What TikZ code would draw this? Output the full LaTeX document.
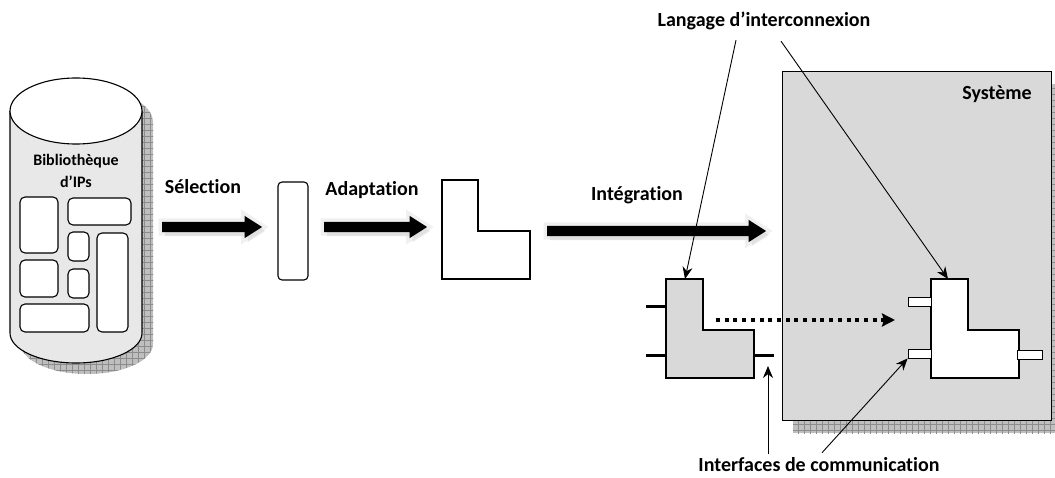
\documentclass[tikz,border=0pt]{standalone}
\usepackage{fontspec}
\setmainfont[Ligatures=NoCommon]{Carlito}
\usetikzlibrary{shapes.arrows,shadows,patterns.meta,arrows.meta,positioning}

\tikzstyle{capText} = [font=\fontsize{20}{24}\selectfont\bfseries, inner sep=0pt]
\tikzstyle{bigArrow} = [single arrow, fill=black, inner sep=5pt, minimum width=22pt, single arrow head extend=6pt, single arrow tip angle=65, preaction={draw=black!6, line width=7pt}, drop shadow={shadow xshift=3pt, shadow yshift=-4pt, fill=black!18}]
\tikzstyle{arrow} = [line width=0.9pt, -{Stealth[length=12pt,width=10pt]}]
\tikzstyle{ipBox} = [draw, rounded corners=5pt, line width=1.1pt, fill=white]
\tikzstyle{port} = [draw, fill=white, line width=0.8pt, inner sep=0pt]
\tikzstyle{shadowGrid} = [fill=black!25, postaction={pattern={Hatch[angle=0,distance=6pt,line width=0.4pt]}, pattern color=black!45}]
\tikzstyle{stub} = [line width=3pt]

\begin{document}
\begin{tikzpicture}[x=1pt, y=-1pt]
    \useasboundingbox (0,0) rectangle (1055,478);

    % bibliotheque
    \path[shadowGrid, shift={(11,11)}] (10,111) -- (10,333) arc[start angle=180, end angle=0, x radius=66, y radius=30] -- (142,111) arc[start angle=0, end angle=-180, x radius=66, y radius=33] -- cycle;
    \draw[line width=1.1pt, fill=black!9] (10,111) -- (10,333) arc[start angle=180, end angle=0, x radius=66, y radius=30] -- (142,111);
    \draw[line width=1.1pt, fill=white] (76,111) ellipse (66 and 33);
    \node (biblio)[font=\fontsize{16}{22}\selectfont\bfseries, align=center] at (76,171) {Bibliothèque\\d’IPs};
    \draw[ipBox] (20,197) rectangle (58,253);
    \draw[ipBox] (68,198) rectangle (131,225);
    \draw[ipBox] (68,232) rectangle (89,261);
    \draw[ipBox] (97,233) rectangle (128,332);
    \draw[ipBox] (20,260) rectangle (58,297);
    \draw[ipBox] (68,269) rectangle (89,298);
    \draw[ipBox] (20,304) rectangle (89,332);

    % selection
    \node (aSel)[bigArrow, minimum height=100pt] at (208,227) {};
    \node (lblSel)[capText] at (203,187) {Sélection};
    \node (sel)[draw, rounded corners=4pt, line width=1.1pt, minimum width=30pt, minimum height=98pt] at (293,231) {};

    % adaptation
    \node (aAdapt)[bigArrow, minimum height=103pt] at (371.5,227) {};
    \node (lblAdapt)[capText] at (372,190) {Adaptation};
    \draw[line width=1.1pt] (442,180) -- (478,180) -- (478,231) -- (530,231) -- (530,279) -- (442,279) -- cycle;

    % integration
    \node (aInteg)[bigArrow, minimum height=219pt] at (652.5,231) {};
    \node (lblInteg)[capText] at (637,195) {Intégration};

    % systeme
    \path[shadowGrid] (793,84) rectangle (1062,433);
    \node (sys)[draw, fill=black!15, line width=1.1pt, minimum width=269pt, minimum height=349pt, anchor=north west] at (782,71) {};
    \node (lblSys)[capText] at (997,94) {Système};

    % IP avant integration
    \draw[stub] (646,307) -- (666,307);
    \draw[stub] (646,355) -- (666,355);
    \draw[stub] (754,355) coordinate (gOut) -- (774,355);
    \draw[line width=1.1pt, fill=black!15] (666,279) -- (703,279) -- (703,330) -- (754,330) -- (754,378) -- (666,378) -- cycle;
    \coordinate (gTop) at (685,279);

    % IP dans le systeme
    \draw[line width=1.1pt, fill=white] (931,279) -- (968,279) -- (968,330) -- (1019,330) -- (1019,378) -- (931,378) -- cycle;
    \coordinate (wTop) at (948,279);
    \node (pA)[port, minimum width=23pt, minimum height=9pt] at (919.5,301.5) {};
    \node (pB)[port, minimum width=23pt, minimum height=9pt] at (919.5,353.5) {};
    \node (pC)[port, minimum width=25pt, minimum height=9pt] at (1029.5,354.5) {};

    \coordinate (dotStart) at (716,320);
    \coordinate (dotEnd) at (895,320);
    \draw[line width=4pt, dash pattern=on 4pt off 4.7pt, -{Stealth[length=13pt,width=13pt,inset=2pt]}] (dotStart) -- (dotEnd);

    % legendes
    \node (lang)[capText] at (764,21) {Langage d’interconnexion};
    \node (intf)[capText] at (819,465) {Interfaces de communication};
    \coordinate (stubEnd) at (768,366);

    \draw [arrow] ([shift={(-28,10)}]lang.south) -- (gTop);
    \draw [arrow] ([shift={(17,11)}]lang.south) -- (wTop);
    \draw [arrow] (stubEnd |- intf.north) ++(0,-4) -- (stubEnd);
    \draw [arrow] ([shift={(3,-5)}]intf.north) -- (pB.south west);
\end{tikzpicture}
\end{document}
